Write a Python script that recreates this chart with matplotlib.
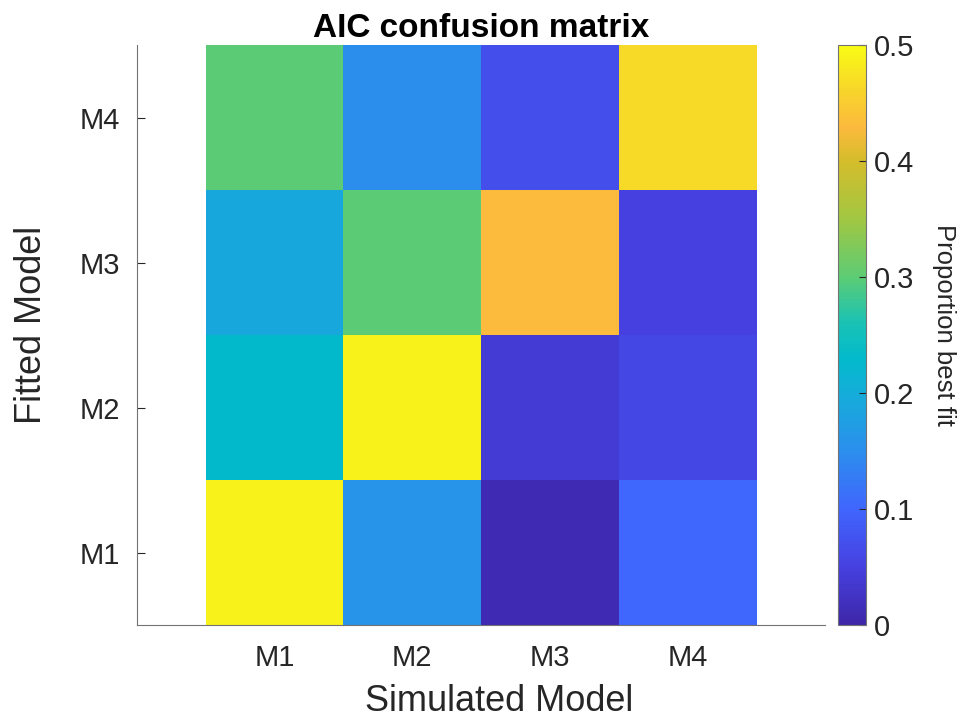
import numpy as np
import matplotlib.pyplot as plt
from matplotlib.colors import LinearSegmentedColormap

plt.rcParams['font.family'] = ['Liberation Sans', 'DejaVu Sans']

simulated = ['M1', 'M2', 'M3', 'M4']
fitted = ['M1', 'M2', 'M3', 'M4']

# rows = fitted model (M1 bottom .. M4 top), columns = simulated model
fit_m1 = [0.49, 0.16, 0.01, 0.10]
fit_m2 = [0.23, 0.49, 0.04, 0.06]
fit_m3 = [0.19, 0.30, 0.43, 0.05]
fit_m4 = [0.30, 0.15, 0.07, 0.465]

cbar_ticks = [0, 0.1, 0.2, 0.3, 0.4, 0.5]

# rough parula approximation
parula_pts = [
    (0.00, (0.2422, 0.1504, 0.6603)),
    (0.10, (0.2750, 0.2550, 0.8800)),
    (0.20, (0.2500, 0.4000, 0.9950)),
    (0.30, (0.1700, 0.5600, 0.9300)),
    (0.40, (0.0800, 0.6800, 0.8500)),
    (0.46, (0.0100, 0.7300, 0.8000)),
    (0.52, (0.1000, 0.7600, 0.7100)),
    (0.60, (0.3600, 0.8000, 0.4600)),
    (0.70, (0.6300, 0.7800, 0.2600)),
    (0.80, (0.8300, 0.7400, 0.1700)),
    (0.86, (0.9900, 0.7300, 0.2400)),
    (0.92, (0.9700, 0.8300, 0.1700)),
    (1.00, (0.9769, 0.9839, 0.0805)),
]
parula = LinearSegmentedColormap.from_list('parula', parula_pts)

data = np.array([fit_m1, fit_m2, fit_m3, fit_m4])
dark = (0.15, 0.15, 0.15)

fig = plt.figure(figsize=(9.64, 7.24), dpi=100)
ax = fig.add_axes([0.142, 0.1367, 0.714, 0.8011])
im = ax.imshow(data, cmap=parula, vmin=0, vmax=0.5, origin='lower',
               extent=(0.5, 4.5, 0.5, 4.5), aspect='auto', interpolation='nearest')
ax.set_xlim(0, 5)
ax.set_ylim(0.5, 4.5)
ax.set_xticks(range(1, 5))
ax.set_xticklabels(simulated)
ax.set_yticks(range(1, 5))
ax.set_yticklabels(fitted)
ax.tick_params(axis='x', length=0, pad=14, labelsize=21, labelcolor=dark)
ax.tick_params(axis='y', direction='in', length=6, width=0.8, color=dark,
               pad=12, labelsize=21, labelcolor=dark)
for s in ['top', 'right']:
    ax.spines[s].set_visible(False)
for s in ['left', 'bottom']:
    ax.spines[s].set_color('0.45')
    ax.spines[s].set_linewidth(0.8)
ax.set_xlabel('Simulated Model', fontsize=26, color=dark, labelpad=8)
ax.set_ylabel('Fitted Model', fontsize=26, color=dark, labelpad=22)
ax.xaxis.label.set_x(0.526)
ax.yaxis.label.set_y(0.518)
ax.set_title('AIC confusion matrix', fontsize=24, fontweight='bold', pad=6)

cax = fig.add_axes([0.869, 0.1367, 0.029, 0.8011])
cb = fig.colorbar(im, cax=cax, ticks=cbar_ticks)
cb.ax.set_yticklabels(['0', '0.1', '0.2', '0.3', '0.4', '0.5'])
cb.ax.tick_params(direction='in', length=5, width=0.8, color=dark,
                  labelsize=21, labelcolor=dark, pad=6)
cb.outline.set_edgecolor('0.45')
cb.outline.set_linewidth(0.8)
cb.set_label('Proportion best fit', fontsize=18.5, color=dark, rotation=-90, labelpad=30)
cb.ax.yaxis.label.set_y(0.518)

fig.savefig('out.png', dpi=100)
